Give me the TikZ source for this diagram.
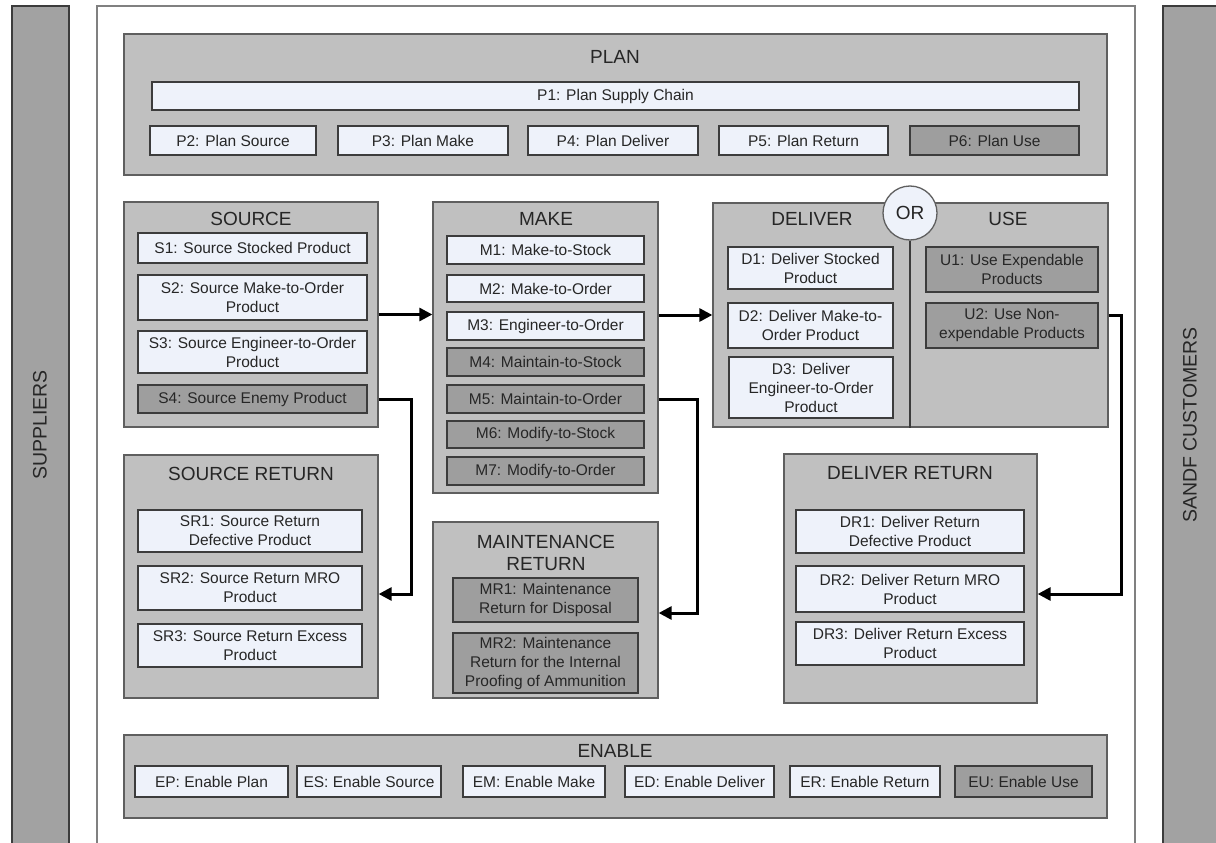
\documentclass[tikz,border=0pt]{standalone}
\usepackage{fontspec}
\setmainfont{Liberation Sans}
\usetikzlibrary{arrows.meta}
\definecolor{contfill}{HTML}{C0C0C0}
\definecolor{contline}{HTML}{5F5F5F}
\definecolor{lightfill}{HTML}{EEF2FA}
\definecolor{darkfill}{HTML}{9E9E9E}
\definecolor{boxline}{HTML}{3C3C3C}
\definecolor{sidefill}{HTML}{A2A2A2}
\definecolor{outerline}{HTML}{808080}
\definecolor{txt}{HTML}{262626}
\newcommand{\myitemf}{\fontsize{15.5}{19}\selectfont}
\newcommand{\mytitlef}{\fontsize{19}{22.5}\selectfont}
\newcommand{\mysidef}{\fontsize{19.5}{22.5}\selectfont}
\newcommand{\bx}[7]{\node[#6, minimum width={(#4-#2)*1pt}, minimum height={(#5-#3)*1pt}] (#1) at ({(#2+#4)/2},{(#3+#5)/2}) {#7};}
\tikzset{
  cont/.style={draw=contline, fill=contfill, line width=1.3pt, inner sep=0pt},
  lbox/.style={draw=boxline, fill=lightfill, line width=1.4pt, inner sep=0pt, align=center, font=\myitemf, text=txt},
  dbox/.style={lbox, fill=darkfill},
  sidebar/.style={draw=boxline, fill=sidefill, line width=1.3pt, inner sep=0pt},
  outerbox/.style={draw=outerline, fill=white, line width=1.3pt, inner sep=0pt},
  ttl/.style={font=\mytitlef, text=txt, align=center, inner sep=0pt},
  sidetxt/.style={font=\mysidef, text=txt, rotate=90, inner sep=0pt},
  arr/.style={line width=3pt, -{Triangle[length=13pt,width=13pt]}},
  ornode/.style={circle, draw=contline, fill=lightfill, line width=1.3pt, minimum size=54pt, inner sep=0pt, font=\mytitlef, text=txt}
}
\begin{document}
\begin{tikzpicture}[x=1pt,y=-1pt]
\clip (0,0) rectangle (1216,843);
\fill[white] (0,0) rectangle (1216,843);
% side bars and outer frame
\bx{supbar}{12}{6}{69}{870}{sidebar}{}
\bx{cusbar}{1163}{6}{1236}{870}{sidebar}{}
\bx{frame}{97}{6}{1135}{870}{outerbox}{}
\node[sidetxt] (suptxt) at (40,425) {SUPPLIERS};
\node[sidetxt] (custxt) at (1190,425) {SANDF CUSTOMERS};
% PLAN
\bx{plan}{124}{34}{1107}{175}{cont}{}
\node[ttl] (planT) at (615,57) {PLAN};
\bx{P1}{152}{82}{1079}{110}{lbox}{P1: Plan Supply Chain}
\bx{P2}{150}{126}{316}{155}{lbox}{P2: Plan Source}
\bx{P3}{338}{126}{508}{155}{lbox}{P3: Plan Make}
\bx{P4}{528}{126}{698}{155}{lbox}{P4: Plan Deliver}
\bx{P5}{719}{126}{888}{155}{lbox}{P5: Plan Return}
\bx{P6}{910}{126}{1079}{155}{dbox}{P6: Plan Use}
% SOURCE
\bx{source}{124}{202}{378}{427}{cont}{}
\node[ttl] (sourceT) at (251,219) {SOURCE};
\bx{S1}{138}{233}{367}{263}{lbox}{S1: Source Stocked Product}
\bx{S2}{138}{275}{367}{320}{lbox}{S2: Source Make-to-Order\\Product}
\bx{S3}{138}{331}{367}{373}{lbox}{S3: Source Engineer-to-Order\\Product}
\bx{S4}{138}{385}{367}{413}{dbox}{S4: Source Enemy Product}
% SOURCE RETURN
\bx{srcret}{124}{455}{378}{698}{cont}{}
\node[ttl] (srcretT) at (251,474) {SOURCE RETURN};
\bx{SR1}{138}{510}{362}{552}{lbox}{SR1: Source Return\\Defective Product}
\bx{SR2}{138}{566}{362}{610}{lbox}{SR2: Source Return MRO\\Product}
\bx{SR3}{138}{624}{362}{667}{lbox}{SR3: Source Return Excess\\Product}
% MAKE
\bx{make}{433}{202}{658}{493}{cont}{}
\node[ttl] (makeT) at (546,219) {MAKE};
\bx{M1}{447}{236}{644}{264}{lbox}{M1: Make-to-Stock}
\bx{M2}{447}{275}{644}{302}{lbox}{M2: Make-to-Order}
\bx{M3}{447}{312}{644}{340}{lbox}{M3: Engineer-to-Order}
\bx{M4}{447}{348}{644}{376}{dbox}{M4: Maintain-to-Stock}
\bx{M5}{447}{385}{644}{413}{dbox}{M5: Maintain-to-Order}
\bx{M6}{447}{421}{644}{448}{dbox}{M6: Modify-to-Stock}
\bx{M7}{447}{457}{644}{485}{dbox}{M7: Modify-to-Order}
% MAINTENANCE RETURN
\bx{mret}{433}{522}{658}{698}{cont}{}
\node[ttl] (mretT) at (546,553) {MAINTENANCE\\RETURN};
\bx{MR1}{453}{578}{638}{622}{dbox}{MR1: Maintenance\\Return for Disposal}
\bx{MR2}{453}{633}{638}{693}{dbox}{MR2: Maintenance\\Return for the Internal\\Proofing of Ammunition}
% DELIVER / USE
\bx{deluse}{713}{203}{1108}{427}{cont}{}
\node[ttl] (delT) at (812,219) {DELIVER};
\node[ttl] (useT) at (1008,219) {USE};
\bx{D1}{728}{247}{893}{289}{lbox}{D1: Deliver Stocked\\Product}
\bx{D2}{728}{303}{893}{348}{lbox}{D2: Deliver Make-to-\\Order Product}
\bx{D3}{729}{357}{893}{418}{lbox}{D3: Deliver\\Engineer-to-Order\\Product}
\bx{U1}{926}{247}{1098}{292}{dbox}{U1: Use Expendable\\Products}
\bx{U2}{926}{303}{1098}{348}{dbox}{U2: Use Non-\\expendable Products}
\node[ornode] (or) at (910,213) {OR};
\draw[draw=boxline, line width=1.3pt] (or.south) -- (or.south |- deluse.south);
% DELIVER RETURN
\bx{delret}{784}{454}{1037}{703}{cont}{}
\node[ttl] (delretT) at (910,473) {DELIVER RETURN};
\bx{DR1}{796}{510}{1024}{553}{lbox}{DR1: Deliver Return\\Defective Product}
\bx{DR2}{796}{566}{1024}{612}{lbox}{DR2: Deliver Return MRO\\Product}
\bx{DR3}{796}{622}{1024}{665}{lbox}{DR3: Deliver Return Excess\\Product}
% ENABLE
\bx{enable}{124}{735}{1107}{818}{cont}{}
\node[ttl] (enableT) at (615,751) {ENABLE};
\bx{EP}{135}{766}{288}{797}{lbox}{EP: Enable Plan}
\bx{ES}{297}{766}{441}{797}{lbox}{ES: Enable Source}
\bx{EM}{463}{766}{605}{797}{lbox}{EM: Enable Make}
\bx{ED}{625}{766}{774}{797}{lbox}{ED: Enable Deliver}
\bx{ER}{790}{766}{940}{797}{lbox}{ER: Enable Return}
\bx{EU}{955}{766}{1092}{797}{dbox}{EU: Enable Use}
% connectors
\draw[arr] (source.east) -- (source.east -| make.west);
\draw[arr] (make.east |- deluse.west) -- (deluse.west);
\draw[arr] (S4.east -| source.east) -- ++(33,0) |- ([yshift=-6pt]SR2.east -| srcret.east);
\draw[arr] (M5.east -| make.east) -- ++(39,0) |- ([yshift=-13pt]MR1.east -| mret.east);
\draw[arr] (deluse.east) -- ++(13,0) |- ([yshift=-5pt]DR2.east -| delret.east);
\end{tikzpicture}
\end{document}
